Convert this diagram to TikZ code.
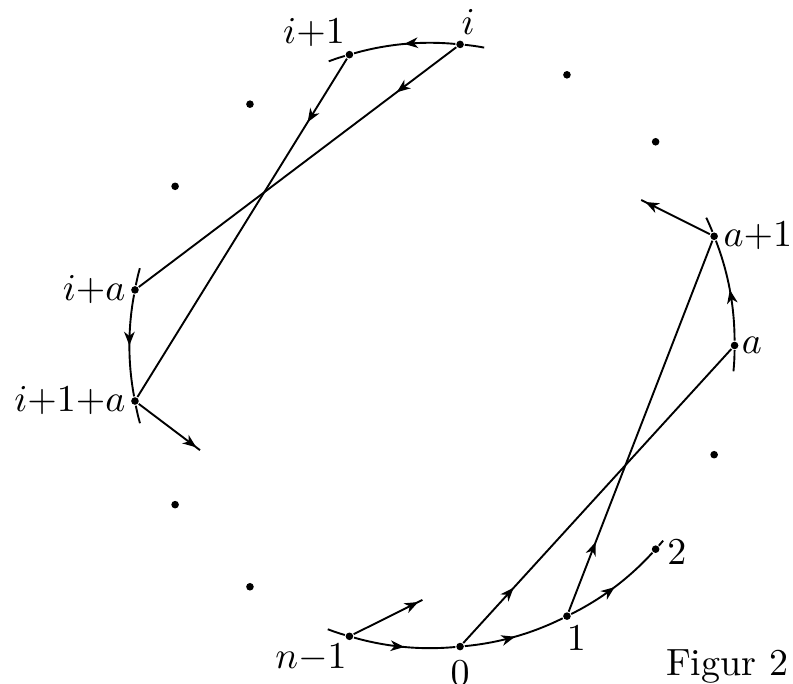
\documentclass[tikz,border=0pt]{standalone}
\usepackage{tikz}
\usetikzlibrary{arrows.meta, calc, decorations.markings}

\begin{document}
\begin{tikzpicture}[
    >={Stealth[length=3.6pt, width=2.8pt, inset=1.1pt]},
    line width=0.5pt,
    pt/.style={circle, fill, inner sep=0pt, minimum size=2pt},
    lab/.style={inner sep=1pt},
    mid/.style={postaction={decorate},
        decoration={markings, mark=at position #1 with {\arrow{>}}}},
    arcstep/.style={bend right=10.588, looseness=0.86},
    chord/.style={mid=0.188},
]
\useasboundingbox (-4.002,-3.134) rectangle (3.341,3.199);

% -------------------------------------------------
% Points: 17 equally spaced on the circle (r = 2.8)
% -------------------------------------------------
\node[pt, label={[lab, yshift=-1.4pt]below:$0$}]              (v0)   at (-84.706:2.8) {};
\node[pt, label={[lab, xshift=2.5pt]below:$1$}]               (v1)   at (-63.529:2.8) {};
\node[pt, label={[lab, xshift=0.6pt, yshift=-0.7pt]right:$2$}] (v2)   at (-42.353:2.8) {};
\node[pt]                                                     (u3)   at (-21.176:2.8) {};
\node[pt, label={[lab, xshift=-0.6pt]right:$a$}]              (va)   at (0:2.8) {};
\node[pt, label={[lab]right:$a{+}1$}]                         (va1)  at (21.176:2.8) {};
\node[pt]                                                     (u6)   at (42.353:2.8) {};
\node[pt]                                                     (u7)   at (63.529:2.8) {};
\node[pt, label={[lab, xshift=2.1pt]above:$i$}]               (vi)   at (84.706:2.8) {};
\node[pt, label={[lab, xshift=0.9pt]above left:$i{+}1$}]      (vi1)  at (105.882:2.8) {};
\node[pt]                                                     (u10)  at (127.059:2.8) {};
\node[pt]                                                     (u11)  at (148.235:2.8) {};
\node[pt, label={[lab]left:$i{+}a$}]                          (via)  at (169.412:2.8) {};
\node[pt, label={[lab]left:$i{+}1{+}a$}]                      (vi1a) at (190.588:2.8) {};
\node[pt]                                                     (u14)  at (211.765:2.8) {};
\node[pt]                                                     (u15)  at (232.941:2.8) {};
\node[pt, label={[lab, xshift=1.4pt]below left:$n{-}1$}]      (vn1)  at (254.118:2.8) {};

% free ends of the short arc pieces
\coordinate (t0) at (249.8:2.8);
\coordinate (t1) at (-40.2:2.8);
\coordinate (t2) at (-4.9:2.8);
\coordinate (t3) at (25:2.8);
\coordinate (t4) at (80.1:2.8);
\coordinate (t5) at (110:2.8);
\coordinate (t6) at (165.2:2.8);
\coordinate (t7) at (194.9:2.8);

% free ends of the short chord pieces
\coordinate (s0) at ($(vn1)!0.2!(u3)$);
\coordinate (s1) at ($(va1)!0.2!(vi1)$);
\coordinate (s2) at ($(vi1a)!0.2!(v0)$);

% -------------------------------------------------
% Arcs along the circle
% -------------------------------------------------
\path
(t0) edge[bend right=2.2] (vn1)
(vn1) edge[arcstep, mid=0.5] (v0)
(v0) edge[arcstep, mid=0.5] (v1)
(v1) edge[arcstep, mid=0.5] (v2)
(v2) edge[bend right=1.1] (t1)

(t2) edge[bend right=2.4] (va)
(va) edge[arcstep, mid=0.5] (va1)
(va1) edge[bend right=1.9] (t3)

(t4) edge[bend right=2.3] (vi)
(vi) edge[arcstep, mid=0.5] (vi1)
(vi1) edge[bend right=2.1] (t5)

(t6) edge[bend right=2.1] (via)
(via) edge[arcstep, mid=0.5] (vi1a)
(vi1a) edge[bend right=2.2] (t7);

% -------------------------------------------------
% Chords (step a)
% -------------------------------------------------
\path
(v0) edge[chord] (va)
(v1) edge[chord] (va1)
(vi) edge[chord] (via)
(vi1) edge[chord] (vi1a)

(vn1) edge[mid=0.94] (s0)
(va1) edge[mid=0.94] (s1)
(vi1a) edge[mid=0.94] (s2);

\node (cap) at (2.731,-2.968) {Figur 2};

\end{tikzpicture}
\end{document}
